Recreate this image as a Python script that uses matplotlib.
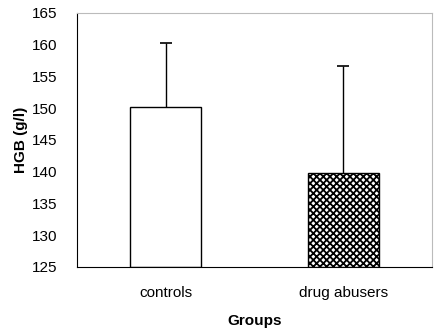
import matplotlib
matplotlib.use("Agg")
import matplotlib.pyplot as plt

categories = ["controls", "drug abusers"]
means = [150.2, 139.8]
errors = [10.0, 16.9]
yticks = [125, 130, 135, 140, 145, 150, 155, 160, 165]

plt.rcParams['font.family'] = ['Liberation Sans', 'DejaVu Sans']
plt.rcParams['hatch.linewidth'] = 1.3

fig = plt.figure(figsize=(4.37, 3.32), dpi=100)
ax = fig.add_axes([0.176, 0.196, 0.813, 0.765])

x = [0, 1]
bars = ax.bar(x, [m - 125 for m in means], bottom=125, width=0.4,
              color="white", edgecolor="black", linewidth=1.0)
bars[1].set_hatch("xxxxx")
eb = ax.errorbar(x, means, yerr=[[0, 0], errors], fmt="none", ecolor="black",
                 elinewidth=1.0, capsize=4, capthick=1.2)
eb[1][0].set_visible(False)

ax.set_xlim(-0.5, 1.5)
ax.set_ylim(125, 165)
ax.set_yticks(yticks)
ax.set_xticks(x)
ax.set_xticklabels(categories)
ax.tick_params(axis='y', length=0, labelsize=11, pad=14)
ax.tick_params(axis='x', length=0, pad=14, labelsize=11)
for s in ["top", "right"]:
    ax.spines[s].set_color("#bbbbbb")
    ax.spines[s].set_linestyle((0, (2, 1)))
ax.spines["left"].set_color("black")
ax.spines["bottom"].set_color("black")
ax.set_ylabel("HGB (g/l)", fontsize=11, fontweight="bold", labelpad=3)
ax.set_xlabel("Groups", fontsize=11, fontweight="bold", labelpad=10)

fig.savefig("out.png", dpi=100)
